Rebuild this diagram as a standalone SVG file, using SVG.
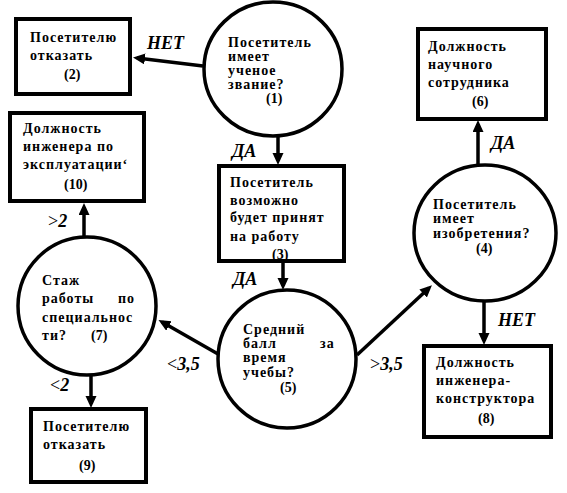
<svg xmlns="http://www.w3.org/2000/svg" width="567" height="493" viewBox="0 0 567 493">
<defs>
<marker id="ah" markerUnits="userSpaceOnUse" markerWidth="14" markerHeight="12" refX="8" refY="5.5" orient="auto">
<path d="M0,0 L12,5.5 L0,11 z" fill="#000"/>
</marker>
<style>
.box{fill:#fff;stroke:#000;stroke-width:4}
.cir{fill:#fff;stroke:#000;stroke-width:3.5}
.t{font-family:"Liberation Serif","DejaVu Serif",serif;font-size:14px;font-weight:bold;letter-spacing:1px;fill:#000}
.n{font-family:"Liberation Serif","DejaVu Serif",serif;font-size:14px;font-weight:bold;fill:#000}
.nb{font-family:"Liberation Serif","DejaVu Serif",serif;font-size:14px;font-weight:bold;fill:#000}
.lb{font-family:"Liberation Serif","DejaVu Serif",serif;font-size:18px;font-weight:bold;font-style:italic;fill:#000}
.op{font-style:normal;font-weight:normal}
.ar{stroke:#000;stroke-width:3.5;fill:none;marker-end:url(#ah)}
</style>
</defs>
<rect width="567" height="493" fill="#fff"/>
<g id="connectors">
<line class="ar" x1="203" y1="66" x2="137" y2="58"/>
<line class="ar" x1="278" y1="137" x2="278" y2="161"/>
<line class="ar" x1="283" y1="263" x2="283" y2="286"/>
<line class="ar" x1="218" y1="354" x2="162" y2="322"/>
<line class="ar" x1="357" y1="355" x2="429" y2="288"/>
<line class="ar" x1="478" y1="165" x2="478" y2="124"/>
<line class="ar" x1="484" y1="302" x2="484" y2="341"/>
<line class="ar" x1="84" y1="237" x2="84" y2="207"/>
<line class="ar" x1="91" y1="376" x2="91" y2="404"/>
<text class="lb" x="147" y="49">НЕТ</text>
<text class="lb" x="232" y="157">ДА</text>
<text class="lb" x="233" y="285">ДА</text>
<text class="lb" x="491" y="149">ДА</text>
<text class="lb" x="498" y="326">НЕТ</text>
<text class="lb" x="48" y="227"><tspan class="op">&gt;</tspan>2</text>
<text class="lb" x="50" y="391"><tspan class="op">&lt;</tspan>2</text>
<text class="lb" x="167" y="370"><tspan class="op">&lt;</tspan>3,5</text>
<text class="lb" x="370" y="370"><tspan class="op">&gt;</tspan>3,5</text>
</g>
<g id="n1">
<ellipse class="cir" cx="273" cy="69" rx="69" ry="67"/>
<text class="t" x="228" y="47">Посетитель</text>
<text class="t" x="228" y="61">имеет</text>
<text class="t" x="228" y="75">ученое</text>
<text class="t" x="228" y="89">звание?</text>
<text class="nb" x="266" y="103">(1)</text>
</g>
<g id="n2">
<rect class="box" x="16" y="19" width="114" height="75"/>
<text class="t" x="30" y="42">Посетителю</text>
<text class="t" x="30" y="60">отказать</text>
<text class="n" x="64" y="79">(2)</text>
</g>
<g id="n3">
<rect class="box" x="219" y="166" width="125" height="95"/>
<text class="t" x="230" y="187">Посетитель</text>
<text class="t" x="230" y="205">возможно</text>
<text class="t" x="230" y="222">будет принят</text>
<text class="t" x="230" y="241">на работу</text>
<text class="nb" x="272" y="259">(3)</text>
</g>
<g id="n4">
<ellipse class="cir" cx="485" cy="233" rx="71" ry="68"/>
<text class="t" x="433" y="209">Посетитель</text>
<text class="t" x="433" y="223">имеет</text>
<text class="t" x="433" y="238">изобретения?</text>
<text class="nb" x="476" y="253">(4)</text>
</g>
<g id="n5">
<circle class="cir" cx="287" cy="359" r="69"/>
<text class="t" x="243" y="334">Средний</text>
<text class="t" x="243" y="348">балл</text>
<text class="t" x="320" y="348">за</text>
<text class="t" x="243" y="362">время</text>
<text class="t" x="243" y="377">учебы?</text>
<text class="nb" x="280" y="392">(5)</text>
</g>
<g id="n6">
<rect class="box" x="418" y="29" width="128" height="90"/>
<text class="t" x="428" y="51">Должность</text>
<text class="t" x="428" y="69">научного</text>
<text class="t" x="428" y="87">сотрудника</text>
<text class="n" x="472" y="106">(6)</text>
</g>
<g id="n7">
<circle class="cir" cx="87" cy="306" r="69"/>
<text class="t" x="42" y="285">Стаж</text>
<text class="t" x="42" y="303">работы</text>
<text class="t" x="118" y="303">по</text>
<text class="t" x="42" y="322">специальнос</text>
<text class="t" x="42" y="340">ти?</text>
<text class="nb" x="91" y="340">(7)</text>
</g>
<g id="n8">
<rect class="box" x="424" y="346" width="127" height="91"/>
<text class="t" x="436" y="367">Должность</text>
<text class="t" x="436" y="385">инженера-</text>
<text class="t" x="436" y="403">конструктора</text>
<text class="n" x="478" y="423">(8)</text>
</g>
<g id="n9">
<rect class="box" x="31" y="409" width="115" height="73"/>
<text class="t" x="43" y="431">Посетителю</text>
<text class="t" x="43" y="449">отказать</text>
<text class="n" x="79" y="470">(9)</text>
</g>
<g id="n10">
<rect class="box" x="10" y="113" width="134" height="88"/>
<text class="t" x="23" y="133">Должность</text>
<text class="t" x="23" y="151"> инженера по</text>
<text class="t" x="23" y="169">эксплуатации‘</text>
<text class="nb" x="64" y="189">(10)</text>
</g>
</svg>
